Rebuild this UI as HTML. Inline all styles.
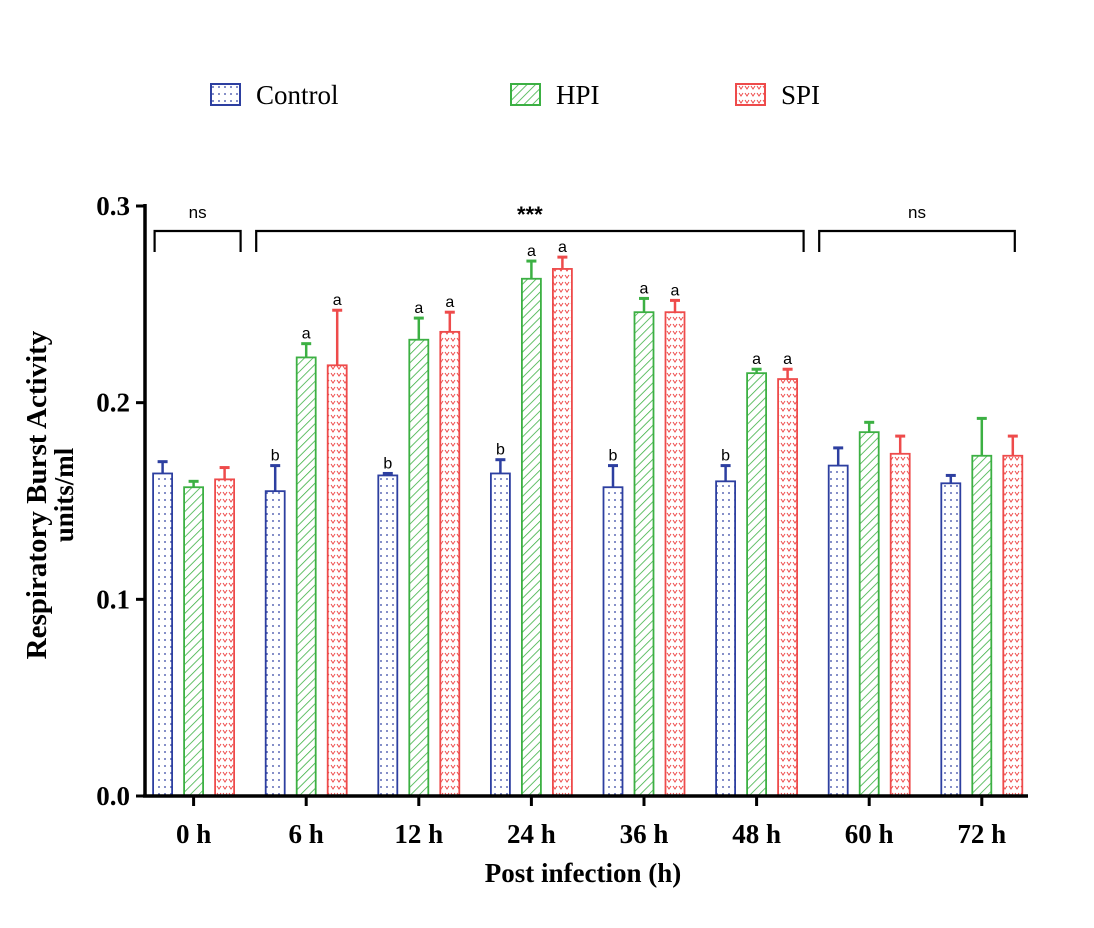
<!DOCTYPE html>
<html><head><meta charset="utf-8"><style>
body{margin:0;background:#fff;}
svg{display:block;font-family:"Liberation Serif",serif;}
</style></head><body>
<svg id="chart" width="1094" height="928">
<defs>
<pattern id="pDots" width="6" height="7" patternUnits="userSpaceOnUse"><circle cx="3" cy="3" r="0.9" fill="#2d3fa0"/></pattern>
<pattern id="pHatch" width="6" height="6" patternUnits="userSpaceOnUse" patternTransform="rotate(45)"><line x1="0" y1="0" x2="0" y2="6" stroke="#3cb043" stroke-width="1.6"/></pattern>
<pattern id="pHeart" width="6" height="7" patternUnits="userSpaceOnUse"><path d="M1,2 L3,5 L5,2" fill="none" stroke="#ee4b4b" stroke-width="1"/></pattern>
</defs>
<g id="legend">
<g><rect x="211" y="84" width="29" height="21" fill="url(#pDots)" stroke="#2d3fa0" stroke-width="2"/><text x="256" y="104" font-size="27">Control</text></g>
<g><rect x="511" y="84" width="29" height="21" fill="url(#pHatch)" stroke="#3cb043" stroke-width="2"/><text x="556" y="104" font-size="27">HPI</text></g>
<g><rect x="736" y="84" width="29" height="21" fill="url(#pHeart)" stroke="#ee4b4b" stroke-width="2"/><text x="781" y="104" font-size="27">SPI</text></g>
</g>
<g id="plot"></g>
</svg>
<script>
const categories=["0 h","6 h","12 h","24 h","36 h","48 h","60 h","72 h"];
const controlValues=[0.164,0.155,0.163,0.164,0.157,0.160,0.168,0.159];
const controlErrors=[0.006,0.013,0.001,0.007,0.011,0.008,0.009,0.004];
const hpiValues=[0.157,0.223,0.232,0.263,0.246,0.215,0.185,0.173];
const hpiErrors=[0.003,0.007,0.011,0.009,0.007,0.002,0.005,0.019];
const spiValues=[0.161,0.219,0.236,0.268,0.246,0.212,0.174,0.173];
const spiErrors=[0.006,0.028,0.010,0.006,0.006,0.005,0.009,0.010];
const controlLetters=["","b","b","b","b","b","",""];
const hpiLetters=["","a","a","a","a","a","",""];
const spiLetters=["","a","a","a","a","a","",""];
const yTicks=[0,0.1,0.2,0.3];
const yTickLabels=["0.0","0.1","0.2","0.3"];
const brackets=[{from:0,to:0,label:"ns"},{from:1,to:5,label:"***"},{from:6,to:7,label:"ns"}];

const NS="http://www.w3.org/2000/svg";
const g=document.getElementById('plot');
const y=v=>796-v*1966.7;
const xc=i=>193.6+112.6*i;
function mk(tag,attrs,parent){const e=document.createElementNS(NS,tag);for(const k in attrs)e.setAttribute(k,attrs[k]);(parent||g).appendChild(e);return e;}

const series=[
 {vals:controlValues,errs:controlErrors,letters:controlLetters,off:-31,fill:"url(#pDots)",col:"#2d3fa0",name:"control"},
 {vals:hpiValues,errs:hpiErrors,letters:hpiLetters,off:0,fill:"url(#pHatch)",col:"#3cb043",name:"hpi"},
 {vals:spiValues,errs:spiErrors,letters:spiLetters,off:31,fill:"url(#pHeart)",col:"#ee4b4b",name:"spi"}];
const bw=19;
series.forEach(s=>{
 s.vals.forEach((v,i)=>{
  const cx=xc(i)+s.off;
  const top=y(v+s.errs[i]);
  const el=mk('line',{x1:cx,x2:cx,y1:y(v),y2:top,stroke:s.col,'stroke-width':2.5});
  
  
  mk('line',{x1:cx-5,x2:cx+5,y1:top,y2:top,stroke:s.col,'stroke-width':3});
  const r=mk('rect',{x:cx-bw/2,y:y(v),width:bw,height:y(0)-y(v),fill:s.fill,stroke:s.col,'stroke-width':1.8});
  
  
  if(s.letters[i]){
   const t=mk('text',{x:cx,y:top-5,'text-anchor':'middle','font-size':16,'font-family':'Liberation Sans, sans-serif'});
   t.textContent=s.letters[i];
   
   
  }
 });
});
// axes
const ya=mk('line',{x1:145,x2:145,y1:204,y2:797,stroke:'#000','stroke-width':3.5});


const xa=mk('line',{x1:143,x2:1028,y1:796,y2:796,stroke:'#000','stroke-width':3.5});


yTicks.forEach((v,i)=>{
 mk('line',{x1:136,x2:145,y1:y(v),y2:y(v),stroke:'#000','stroke-width':3});
 const t=mk('text',{x:130,y:y(v)+9,'text-anchor':'end','font-size':27,'font-weight':'bold'});
 t.textContent=yTickLabels[i];
 
 
});
categories.forEach((c,i)=>{
 mk('line',{x1:xc(i),x2:xc(i),y1:796,y2:806,stroke:'#000','stroke-width':3});
 const t=mk('text',{x:xc(i),y:843,'text-anchor':'middle','font-size':27,'font-weight':'bold'});
 t.textContent=c;
 
 
});
const xt=mk('text',{x:583,y:882,'text-anchor':'middle','font-size':27,'font-weight':'bold'});
xt.textContent="Post infection (h)";


const yt=mk('text',{transform:'translate(46,495) rotate(-90)','text-anchor':'middle','font-size':29,'font-weight':'bold'});
yt.textContent="Respiratory Burst Activity";


const yt2=mk('text',{transform:'translate(73,495) rotate(-90)','text-anchor':'middle','font-size':27,'font-weight':'bold'});
yt2.textContent="units/ml";


// brackets
brackets.forEach(b=>{
 const x1=xc(b.from)-(b.from===0?39:50), x2=xc(b.to)+(b.to===categories.length-1?33:47);
 const p=mk('path',{d:`M${x1},252 V231 H${x2} V252`,fill:'none',stroke:'#000','stroke-width':2.2});
 
 
 const t=mk('text',{x:(x1+x2)/2,y:b.label==="***"?222:218,'text-anchor':'middle','font-size':b.label==="***"?22:17,'font-weight':b.label==="***"?'bold':'normal','font-family':'Liberation Sans, sans-serif'});
 t.textContent=b.label;
 
 
});
</script>
</body></html>
